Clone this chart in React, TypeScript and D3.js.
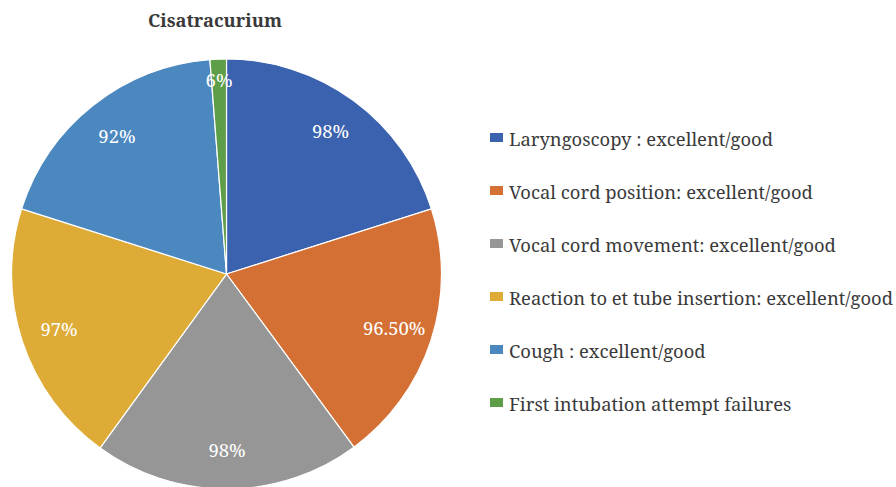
import React, { useEffect } from 'react';
import * as d3 from 'd3';

const categories = [
  'Laryngoscopy : excellent/good',
  'Vocal cord position: excellent/good',
  'Vocal cord movement: excellent/good',
  'Reaction to et tube insertion: excellent/good',
  'Cough : excellent/good',
  'First intubation attempt failures'
];
const values = [98, 96.5, 98, 97, 92, 6];
const labels = ['98%', '96.50%', '98%', '97%', '92%', '6%'];
const colors = ['#3A62AE', '#D47034', '#969696', '#DDAB36', '#4B88BF', '#5F9E48'];

const WIDTH = 896;
const HEIGHT = 487;
const FONT = '"Noto Serif", "Liberation Serif", serif';

export default function App() {
  useEffect(() => {
    document.body.style.margin = '0';
  }, []);

  const cx = 226.5;
  const cy = 274;
  const radius = 215;

  const pie = d3
    .pie<number>()
    .sort(null)
    .value(d => d);
  const arcs = pie(values);

  const arc = d3.arc<d3.PieArcDatum<number>>().innerRadius(0).outerRadius(radius);

  const labelArc = (d: d3.PieArcDatum<number>) => {
    // 小扇区标签外移
    const r = d.endAngle - d.startAngle < 0.2 ? radius * 0.9 : radius * 0.82;
    return d3.arc<d3.PieArcDatum<number>>().innerRadius(r).outerRadius(r).centroid(d);
  };

  const legendY = d3.scalePoint<string>().domain(categories).range([139, 404]);

  return (
    <svg width={WIDTH} height={HEIGHT} style={{ display: 'block', fontFamily: FONT }}>
      <rect width={WIDTH} height={HEIGHT} fill="#fff" />
      {/* 标题 */}
      <text
        x={215}
        y={27}
        textAnchor="middle"
        fontSize={18.3}
        fontWeight="bold"
        fill="#3a3a3a"
        style={{ fontFamily: FONT }}
      >
        Cisatracurium
      </text>

      {/* 饼图 */}
      <g transform={`translate(${cx},${cy})`}>
        {arcs.map((d, i) => (
          <path key={i} d={arc(d) || ''} fill={colors[i]} stroke="#fff" strokeWidth={1.2} />
        ))}
        {arcs.map((d, i) => {
          const [x, y] = labelArc(d);
          return (
            <text
              key={'l' + i}
              x={x}
              y={y}
              dy="0.36em"
              textAnchor="middle"
              fontSize={18.5}
              fill="#fff"
              style={{ fontFamily: FONT }}
            >
              {labels[i]}
            </text>
          );
        })}
      </g>

      {/* 图例 */}
      <g>
        {categories.map((c, i) => {
          const y = legendY(c) || 0;
          return (
            <g key={c}>
              <rect x={490} y={y - 6} width={13} height={9} fill={colors[i]} />
              <text x={509} y={y + 7} fontSize={18.4} fill="#3a3a3a" style={{ fontFamily: FONT }}>
                {c}
              </text>
            </g>
          );
        })}
      </g>
    </svg>
  );
}
